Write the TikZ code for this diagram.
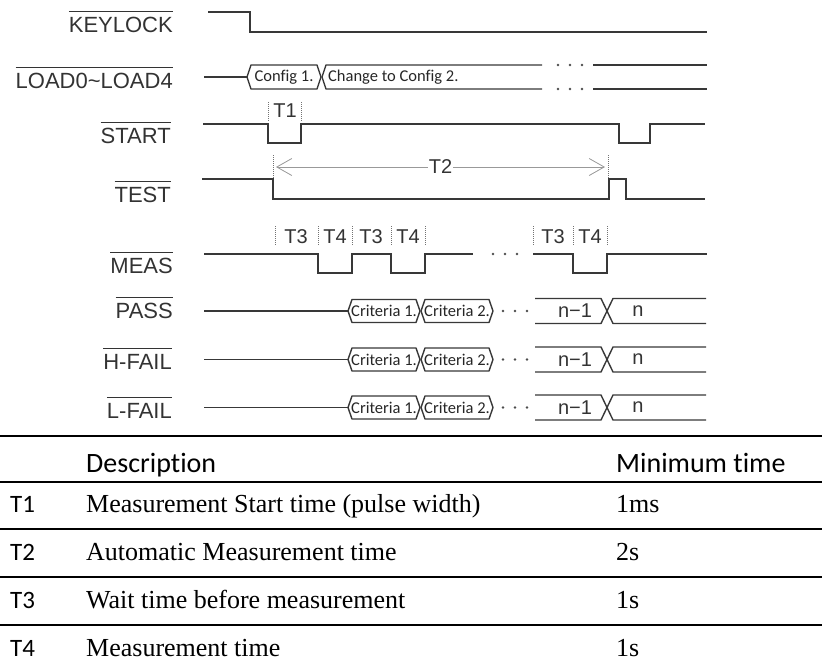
\documentclass[tikz,border=0pt]{standalone}
\usepackage{fontspec}
\setmainfont{Liberation Serif}
\newfontfamily\sigfont{Liberation Sans}
\newfontfamily\busfont[Ligatures=NoCommon]{Carlito}
\usepackage{tikz}
\usetikzlibrary{arrows.meta}
\tikzset{
  wave/.style    = {draw=black!78, line width=1.7pt},
  bus/.style     = {draw=black!78, line width=1.4pt, line join=round},
  tick/.style    = {draw=black!55, line width=1pt, densely dotted},
  span/.style    = {draw=black!40, line width=0.8pt,
                    {Straight Barb[length=15pt,width=17pt]}-{Straight Barb[length=15pt,width=17pt]}},
  siglab/.style  = {anchor=base east, inner sep=0pt, text=black!80,
                    font=\sigfont\fontsize{22}{24}\selectfont},
  tlab/.style    = {inner sep=1pt, text=black!80, font=\sigfont\fontsize{20}{22}\selectfont},
  buslab/.style  = {inner sep=0pt, text=black!85, font=\busfont\fontsize{16.5}{18}\selectfont},
  tabline/.style = {draw=black, line width=2.6pt},
  tabhead/.style = {anchor=base west, inner sep=0pt, font=\busfont\fontsize{28}{30}\selectfont},
  tabid/.style   = {anchor=base west, inner sep=0pt, font=\busfont\fontsize{25}{30}\selectfont},
  tabdesc/.style = {anchor=base west, inner sep=0pt, font=\fontsize{26}{30}\selectfont},
}
\newcommand{\ovl}[1]{\vbox{\hrule height 1.3pt\kern 4.5pt\hbox{#1}}}

\begin{document}
\begin{tikzpicture}[x=1pt, y=-1pt]
  \useasboundingbox (0,0) rectangle (822,670);

  % signal names
  \node[siglab] (keylock) at (173,32)  {\ovl{KEYLOCK}};
  \node[siglab] (load)    at (173,88)  {\ovl{LOAD0\textasciitilde LOAD4}};
  \node[siglab] (start)   at (171,143) {\ovl{START}};
  \node[siglab] (test)    at (171,202) {\ovl{TEST}};
  \node[siglab] (meas)    at (173,273) {\ovl{MEAS}};
  \node[siglab] (pass)    at (173,318) {\ovl{PASS}};
  \node[siglab] (hfail)   at (172,369) {\ovl{H-FAIL}};
  \node[siglab] (lfail)   at (172,418) {\ovl{L-FAIL}};

  % waves
  \draw[wave] (208,12) -- (250,12) -- (250,32) -- (707,32);
  \draw[wave] (203,124) -- (268,124) -- (268,143) -- (301,143) -- (301,124)
        -- (619,124) -- (619,143) -- (650,143) -- (650,124) -- (705,124);
  \draw[wave] (202,179) -- (273,179) -- (273,199) -- (609,199) -- (609,179)
        -- (626,179) -- (626,199) -- (705,199);
  \draw[wave] (204,254) -- (318,254) -- (318,273) -- (352,273) -- (352,254)
        -- (391,254) -- (391,273) -- (425,273) -- (425,254) -- (473,254);
  \draw[wave] (533,254) -- (573,254) -- (573,273) -- (607,273) -- (607,254) -- (707,254);
  \foreach \x in {493,505,517} \fill[black!70] (\x,254) circle (1.3pt);

  % LOAD bus
  \draw[wave] (204,77) -- (247,77);
  \draw[bus] (247,77) -- (251,65) -- (317,65) -- (321,77) -- (317,89) -- (251,89) -- cycle;
  \draw[bus] (542,65) -- (326,65) -- (322,77) -- (326,89) -- (542,89);
  \draw[bus] (593,65) -- (707,65) (593,89) -- (707,89);
  \foreach \x in {558,570,582} \fill[black!70] (\x,65) circle (1.3pt) (\x,89) circle (1.3pt);
  \node[buslab] (cfg1) at (284,77) {Config 1.};
  \node[buslab, anchor=west] (cfg2) at (328,77) {Change to Config 2.};

  % result buses
  \foreach \y [count=\i] in {311,359.5,407.5} {
    \draw[wave] (204,\y) -- (348,\y);
    \draw[bus] (348,\y) -- (352,\y-11.5) -- (416,\y-11.5) -- (420,\y)
          -- (416,\y+11.5) -- (352,\y+11.5) -- cycle;
    \draw[bus] (421,\y) -- (425,\y-11.5) -- (489,\y-11.5) -- (493,\y)
          -- (489,\y+11.5) -- (425,\y+11.5) -- cycle;
    \foreach \x in {503,515,527} \fill[black!70] (\x,\y) circle (1.3pt);
    \draw[bus] (535,\y-12.5) -- (601,\y-12.5) -- (607,\y) -- (601,\y+12.5) -- (535,\y+12.5);
    \draw[bus] (706,\y-12.5) -- (613,\y-12.5) -- (607,\y) -- (613,\y+12.5) -- (706,\y+12.5);
    \node[buslab] (crA\i) at (384,\y) {Criteria 1.};
    \node[buslab] (crB\i) at (457,\y) {Criteria 2.};
    \node[tlab] (nm\i) at (575,\y) {n−1};
    \node[tlab] (n\i) at (638,\y) {n};
  }

  % time marks
  \draw[tick] (268,102) -- (268,122) (301,102) -- (301,122);
  \node[tlab] (t1) at (285,111) {T1};
  \draw[tick] (273,155) -- (273,178) (608,155) -- (608,178);
  \draw[span] (276,167) -- node[tlab, fill=white] (t2) {T2} (605,167);
  \foreach \x in {275,318,352,391,425,533,573,607}
    \draw[tick] (\x,226) -- (\x,246);
  \foreach \x/\t in {296/T3,335/T4,371/T3,408/T4,553/T3,590/T4}
    \node[tlab] at (\x,237) {\t};

  % table
  \foreach \y in {436,482,529,577,625}
    \draw[tabline] (0,\y) -- (822,\y);
  \node[tabhead] (hdesc) at (86,472)  {Description};
  \node[tabhead] (hmin)  at (616,472) {Minimum time};
  \foreach \t/\d/\m [count=\i] in {T1/Measurement Start time (pulse width)/1ms,
      T2/Automatic Measurement time/2s, T3/Wait time before measurement/1s,
      T4/Measurement time/1s} {
    \node[tabid]   (id\i)   at (10,464+48*\i)  {\t};
    \node[tabdesc] (desc\i) at (86,464+48*\i)  {\d};
    \node[tabdesc] (min\i)  at (616,464+48*\i) {\m};
  }
\end{tikzpicture}
\end{document}
